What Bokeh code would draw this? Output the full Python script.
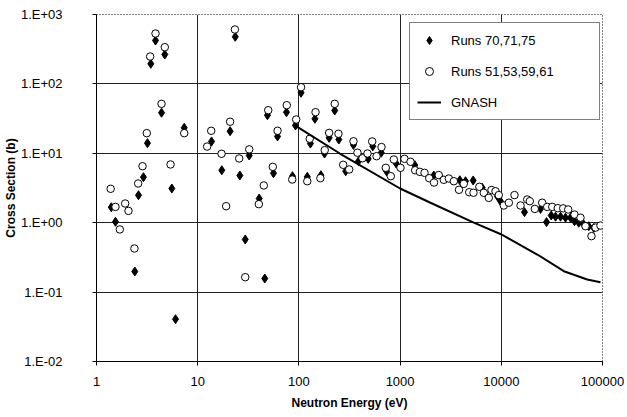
from bokeh.plotting import figure
from bokeh.models import FixedTicker, Legend, LegendItem
from bokeh.embed import file_html
from bokeh.resources import INLINE

# ---- data ----
run70_energy = [1.40, 1.54, 2.39, 2.60, 2.91, 3.19, 3.44, 3.83, 4.39, 4.73,
                5.55, 6.04, 7.36, 13.7, 17.3, 20.9, 23.5, 26.1, 29.5, 32.3,
                40.5, 46.0, 48.9, 56.1, 61.5, 75.4, 86.4, 92.5, 105, 121,
                130, 144, 165, 179, 199, 226, 248, 290, 346, 388,
                484, 537, 651, 734, 915, 1397, 2153, 3892, 4430, 5275,
                6476, 9170, 9817, 16950, 24390, 27990, 31140, 34350, 38490, 43090,
                48270, 52880, 58310, 65360, 73230, 82100]
run70_xs = [1.67, 1.03, 0.198, 2.49, 4.53, 14.0, 195, 422, 38.4, 265,
            3.11, 0.0407, 23.3, 14.8, 5.70, 20.8, 477, 4.79, 0.573, 9.29,
            2.23, 0.157, 35.4, 5.16, 17.5, 39.1, 4.68, 25.2, 74.5, 4.58,
            13.8, 31.4, 4.83, 9.93, 16.7, 41.4, 15.8, 5.52, 13.2, 7.69,
            8.33, 12.6, 10.2, 5.52, 7.13, 6.75, 4.79, 4.09, 3.96, 4.06,
            3.19, 2.39, 2.04, 1.42, 1.58, 1.02, 1.27, 1.22, 1.22, 1.18,
            1.18, 1.05, 1.00, 0.94, 0.89, 0.84]

run51_energy = [1.38, 1.54, 1.70, 1.92, 2.07, 2.37, 2.58, 2.85, 3.14, 3.39,
                3.83, 4.39, 4.73, 5.39, 7.36, 12.4, 13.6, 17.2, 19.1, 20.9,
                23.3, 25.7, 29.5, 32.3, 40.2, 45.0, 49.8, 55.2, 61.5, 75.9,
                85.9, 94.0, 105, 121, 128, 146, 163, 180, 199, 226,
                246, 274, 314, 346, 379, 425, 476, 530, 585, 655,
                722, 809, 867, 1009, 1105, 1267, 1409, 1566, 1743, 1940,
                2163, 2410, 2703, 3030, 3397, 3820, 4257, 4820, 5312, 6068,
                6716, 7520, 8000, 8770, 9440, 10590, 11870, 13500, 15490, 18030,
                19130, 21440, 25360, 28430, 31870, 36160, 40900, 45820, 52880, 60640,
                67920, 77800, 85260, 95500]
run51_xs = [3.08, 1.69, 0.80, 1.89, 1.48, 0.425, 3.67, 6.52, 19.5, 248,
            532, 51.6, 338, 6.90, 19.5, 12.5, 21.1, 9.84, 1.73, 28.5,
            608, 8.42, 0.164, 11.4, 1.85, 3.44, 41.8, 6.38, 21.1, 49.3,
            4.19, 30.7, 89.6, 3.96, 16.2, 39.1, 4.38, 11.1, 19.7, 51.6,
            19.1, 6.83, 5.85, 14.9, 10.2, 8.49, 9.93, 14.8, 9.08, 12.3,
            6.18, 4.68, 8.14, 6.18, 8.33, 7.55, 5.70, 5.40, 5.23, 4.38,
            3.79, 4.86, 4.15, 4.33, 3.96, 2.98, 3.63, 2.75, 2.70, 3.29,
            2.70, 2.28, 2.96, 2.84, 2.50, 1.77, 1.94, 2.50, 1.77, 2.16,
            2.04, 1.58, 1.94, 1.69, 1.69, 1.62, 1.61, 1.55, 1.31, 1.18,
            0.89, 0.64, 0.85, 0.91]

gnash_energy = [95, 100, 254, 1000, 1995, 5350, 10050, 22650, 41500, 70600, 95500]
gnash_xs = [24.0, 23.2, 9.93, 3.11, 1.94, 1.00, 0.676, 0.348, 0.200, 0.152, 0.139]

x_tick_values = [1, 10, 100, 1000, 10000, 100000]
x_tick_labels = ["1", "10", "100", "1000", "10000", "100000"]
y_tick_values = [0.01, 0.1, 1, 10, 100, 1000]
y_tick_labels = ["1.E-02", "1.E-01", "1.E+00", "1.E+01", "1.E+02", "1.E+03"]

series_labels = ["Runs 70,71,75", "Runs 51,53,59,61", "GNASH"]
x_title = "Neutron Energy (eV)"
y_title = "Cross Section (b)"

FONT = "Liberation Sans"

p = figure(frame_width=506, frame_height=347,
           x_axis_type="log", y_axis_type="log",
           x_range=(1, 100000), y_range=(0.01, 1000),
           output_backend="svg", toolbar_location=None,
           min_border_left=88, min_border_right=22,
           min_border_top=14, min_border_bottom=52)
p.title.visible = False
p.background_fill_color = "white"
p.border_fill_color = "white"
p.outline_line_color = "black"
p.outline_line_dash = "1 2"
p.outline_line_width = 1

r1 = p.scatter(run70_energy, run70_xs, marker="diamond", size=9,
               fill_color="black", line_color="black", line_width=1)
r2 = p.scatter(run51_energy, run51_xs, marker="circle", size=7.5,
               fill_color="white", line_color="black", line_width=1)
r3 = p.line(gnash_energy, gnash_xs, line_color="black", line_width=2)

# axes
p.xaxis.ticker = FixedTicker(ticks=x_tick_values, minor_ticks=[])
p.yaxis.ticker = FixedTicker(ticks=y_tick_values, minor_ticks=[])
p.xaxis.major_label_overrides = dict(zip(x_tick_values, x_tick_labels))
p.yaxis.major_label_overrides = dict(zip(y_tick_values, y_tick_labels))
for ax in (p.xaxis, p.yaxis):
    ax.axis_line_color = "black"
    ax.axis_line_width = 1
    ax.major_tick_line_color = "black"
    ax.major_tick_out = 4
    ax.major_tick_in = 0
    ax.minor_tick_line_color = None
    ax.major_label_text_font = FONT
    ax.major_label_text_font_size = "13px"
    ax.major_label_text_color = "black"
    ax.axis_label_text_font = FONT
    ax.axis_label_text_font_style = "bold"
    ax.axis_label_text_font_size = "12px"
    ax.axis_label_text_color = "black"
p.xaxis.axis_label = x_title
p.yaxis.axis_label = y_title
p.xaxis.major_label_standoff = 11
p.xaxis.axis_label_standoff = 7
p.yaxis.major_label_standoff = 30
p.yaxis.axis_label_standoff = 0

# grid
p.xgrid.ticker = FixedTicker(ticks=x_tick_values[1:-1])
p.ygrid.ticker = FixedTicker(ticks=y_tick_values[1:-1])
for g in (p.xgrid, p.ygrid):
    g.grid_line_color = "#222222"
    g.grid_line_width = 1
    g.grid_line_alpha = 1

legend = Legend(items=[LegendItem(label=series_labels[0], renderers=[r1]),
                       LegendItem(label=series_labels[1], renderers=[r2]),
                       LegendItem(label=series_labels[2], renderers=[r3])],
                location=(313, 241), margin=0, padding=7, spacing=11,
                glyph_width=24, glyph_height=20, label_height=20,
                label_width=141, label_standoff=10,
                label_text_font=FONT, label_text_font_size="13px",
                label_text_color="black",
                border_line_color="black", border_line_width=1,
                background_fill_color="white", background_fill_alpha=1)
p.add_layout(legend)

open("out.html", "w").write(file_html(p, INLINE))
